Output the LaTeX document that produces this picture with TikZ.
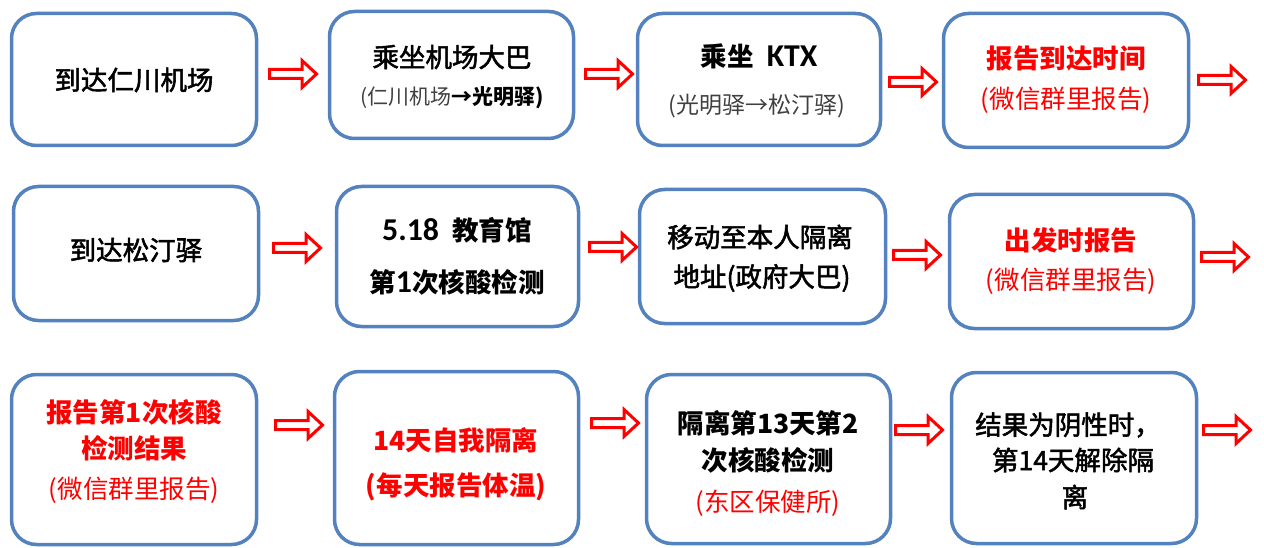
\documentclass[tikz,border=0pt]{standalone}
\usepackage{fontspec}
\setmainfont{Noto Sans CJK SC}
\newfontfamily\latfont{Carlito}[Scale=1.2]
\newfontfamily\medfont{Noto Sans CJK SC}[FakeBold=2]
\definecolor{boxblue}{RGB}{84,130,190}
\definecolor{subgray}{RGB}{64,64,64}
\definecolor{pred}{RGB}{255,0,0}
\tikzset{
  flowbox/.style={draw=boxblue, line width=3.5pt, rounded corners=25pt, fill=white, inner sep=0pt},
  arrowline/.style={draw=pred, fill=white, line width=3pt, line join=miter},
  blockarrow/.pic={\draw[arrowline] (1.5,-4.5) -- (34,-4.5) -- (34,-13.5) -- (48.5,0) -- (34,13.5) -- (34,4.5) -- (1.5,4.5) -- cycle;},
  txt/.style={inner sep=0pt, font=\medfont\fontsize{26.5}{30}\selectfont},
  btxt/.style={inner sep=0pt, font=\fontsize{26.5}{30}\selectfont\bfseries},
  rbtxt/.style={inner sep=0pt, text=pred, font=\fontsize{26.5}{30}\selectfont\bfseries},
  rsub/.style={inner sep=0pt, text=pred, font=\fontsize{25.5}{28}\selectfont},
  gsub/.style={inner sep=0pt, text=subgray, font=\fontsize{23}{25}\selectfont},
}
\begin{document}
\begin{tikzpicture}[x=1pt,y=-1pt]
\useasboundingbox[fill=white] (0,0) rectangle (1264,548);
% row 1 boxes
\node[flowbox, minimum width=245pt, minimum height=132pt] (b11) at (134,79.5) {};
\node[flowbox, minimum width=244pt, minimum height=127pt] (b12) at (451.5,75) {};
\node[flowbox, minimum width=243pt, minimum height=132pt] (b13) at (759,79.5) {};
\node[flowbox, minimum width=245pt, minimum height=134pt] (b14) at (1066,80.5) {};
% row 2 boxes
\node[flowbox, minimum width=245pt, minimum height=134pt] (b21) at (136,253.5) {};
\node[flowbox, minimum width=242pt, minimum height=140pt] (b22) at (457.5,256.5) {};
\node[flowbox, minimum width=246pt, minimum height=134pt] (b23) at (762.5,256.5) {};
\node[flowbox, minimum width=244pt, minimum height=134pt] (b24) at (1071.5,261.5) {};
% row 3 boxes
\node[flowbox, minimum width=245pt, minimum height=170pt] (b31) at (134,459.5) {};
\node[flowbox, minimum width=244pt, minimum height=173pt] (b32) at (456.5,458) {};
\node[flowbox, minimum width=244pt, minimum height=169pt] (b33) at (768.5,459) {};
\node[flowbox, minimum width=245pt, minimum height=171pt] (b34) at (1074,458) {};
% arrows
\pic (a11) at (268,74) {blockarrow};
\pic (a12) at (584,74) {blockarrow};
\pic (a13) at (888,82) {blockarrow};
\pic (a14) at (1197,80) {blockarrow};
\pic (a21) at (272,248) {blockarrow};
\pic (a22) at (588,247) {blockarrow};
\pic (a23) at (892,255) {blockarrow};
\pic (a24) at (1200,257) {blockarrow};
\pic (a31) at (274,425) {blockarrow};
\pic (a32) at (590,423) {blockarrow};
\pic (a33) at (894,430) {blockarrow};
\pic (a34) at (1202,430) {blockarrow};
% row 1 texts
\node[txt] (t11) at (134,80) {到达仁川机场};
\node[txt] (t12a) at (452,57) {乘坐机场大巴};
\node[inner sep=0pt, font=\fontsize{21}{24}\selectfont] (t12b) at (452,98) {\textcolor{subgray}{(仁川机场}\textbf{→光明驿)}};
\node[btxt] (t13a) at (759,56) {乘坐\hspace{0.5em}{\latfont KTX}};
\node[gsub] (t13b) at (757,106) {(光明驿→松汀驿)};
\node[rbtxt] (t14a) at (1066,58) {报告到达时间};
\node[rsub] (t14b) at (1066,100) {(微信群里报告)};
% row 2 texts
\node[txt] (t21) at (136,250) {到达松汀驿};
\node[btxt] (t22a) at (457,230) {{\latfont 5.18}\hspace{0.5em}教育馆};
\node[btxt] (t22b) at (457,282) {第{\latfont 1}次核酸检测};
\node[txt] (t23a) at (760,237) {移动至本人隔离};
\node[txt] (t23b) at (762,278) {地址(政府大巴)};
\node[rbtxt] (t24a) at (1071,240) {出发时报告};
\node[rsub] (t24b) at (1071,281) {(微信群里报告)};
% row 3 texts
\node[rbtxt] (t31a) at (134,412) {报告第1次核酸};
\node[rbtxt] (t31b) at (134,448) {检测结果};
\node[rsub] (t31c) at (134,490) {(微信群里报告)};
\node[rbtxt] (t32a) at (456,440) {14天自我隔离};
\node[rbtxt] (t32b) at (456,487) {(每天报告体温)};
\node[btxt] (t33a) at (768,423) {隔离第13天第2};
\node[btxt] (t33b) at (768,460) {次核酸检测};
\node[rsub] (t33c) at (768,503) {(东区保健所)};
\node[txt] (t34a) at (1068,425) {结果为阴性时，};
\node[txt] (t34b) at (1073,460) {第14天解除隔};
\node[txt] (t34c) at (1075,497) {离};
\end{tikzpicture}
\end{document}
